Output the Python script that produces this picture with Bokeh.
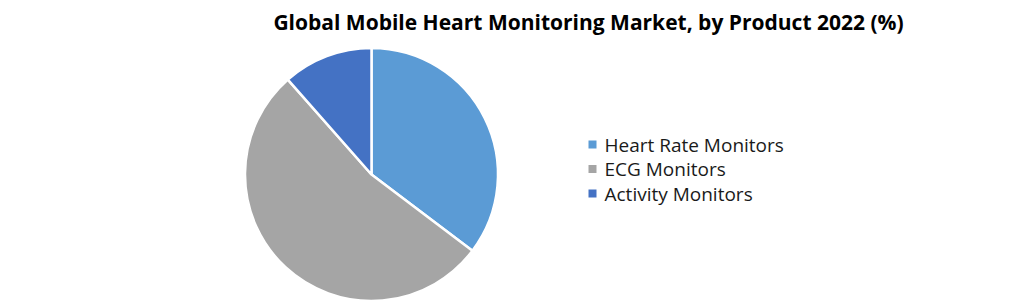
import math
from bokeh.plotting import figure
from bokeh.models import Range1d, ColumnDataSource
from bokeh.core.properties import value
from bokeh.embed import file_html
from bokeh.resources import INLINE

title = "Global Mobile Heart Monitoring Market, by Product 2022 (%)"
categories = ["Heart Rate Monitors", "ECG Monitors", "Activity Monitors"]
shares = [35.3, 53.2, 11.5]
colors = ["#5B9BD5", "#A5A5A5", "#4472C4"]

W, H = 1020, 303
p = figure(width=W, height=H, x_range=Range1d(0, W), y_range=Range1d(0, H),
           output_backend="svg", toolbar_location=None, min_border=0)
p.axis.visible = False
p.grid.visible = False
p.outline_line_color = None
p.background_fill_color = "white"
p.border_fill_color = "white"

total = sum(shares)
starts, ends = [], []
acc = 0.0
for s in shares:
    a0 = math.pi / 2 - 2 * math.pi * acc / total
    acc += s
    a1 = math.pi / 2 - 2 * math.pi * acc / total
    starts.append(a0)
    ends.append(a1)

src = ColumnDataSource(dict(start=starts, end=ends, color=colors, cat=categories))
cx, cy, r = 371, H - 174, 126.5
p.wedge(x=cx, y=cy, radius=r, start_angle="start", end_angle="end", direction="clock",
        fill_color="color", line_color="white", line_width=2.5, source=src)

p.text(x=[588], y=[H - 21], text=[title], text_font=value("Open Sans"), text_font_style="bold",
       text_font_size="21px", text_align="center", text_baseline="middle", text_color="black")

ly = [H - 144, H - 168.5, H - 193]
p.rect(x=[592] * 3, y=ly, width=8, height=8, fill_color=colors, line_color=None)
p.text(x=[604] * 3, y=ly, text=categories, text_font=value("Open Sans"), text_font_size="19px",
       text_align="left", text_baseline="middle", text_color="#1a1a1a")

open("out.html", "w").write(file_html(p, INLINE))
